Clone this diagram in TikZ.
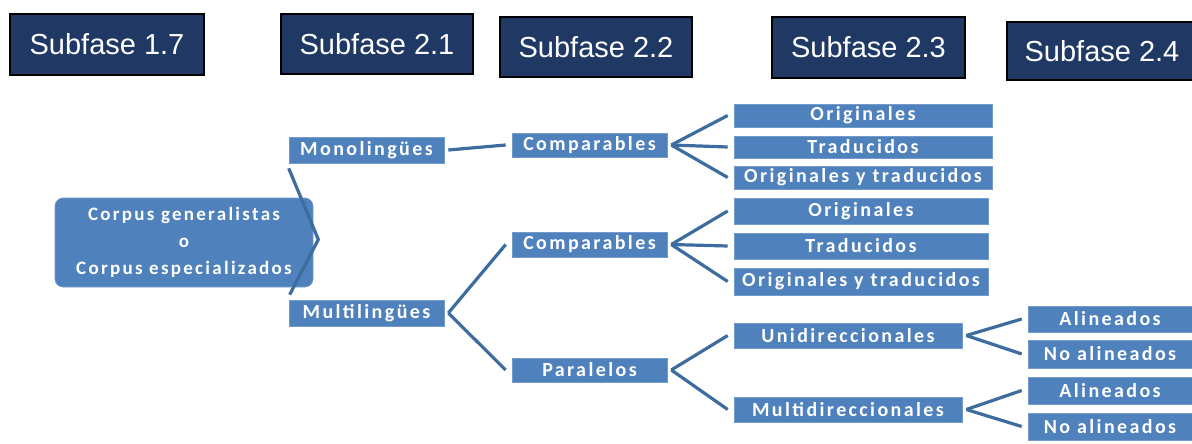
\documentclass[tikz,border=0pt]{standalone}
\usepackage{fontspec}
\usetikzlibrary{calc}
\newfontfamily\hdrfont{Liberation Sans}
\newfontfamily\boxfont[LetterSpace=12]{Carlito}
\definecolor{navy}{HTML}{1F3864}
\definecolor{boxblue}{HTML}{4F81BD}
\definecolor{lineblue}{HTML}{3D6C9E}
\tikzset{
  hdr/.style={draw=black, line width=2pt, fill=navy, text=white,
    font=\hdrfont\fontsize{29}{31}\selectfont, inner sep=0pt},
  bbox/.style={fill=boxblue, draw=boxblue!80!white, line width=0.6pt, text=white,
    font=\boxfont\bfseries\fontsize{20}{22}\selectfont, inner sep=0pt},
  conn/.style={draw=lineblue, line width=3.2pt, line join=miter}
}
\begin{document}
\begin{tikzpicture}[x=1pt,y=-1pt]
\useasboundingbox (0,0) rectangle (1192,444);
% headers
\node[hdr, minimum width=194pt, minimum height=61pt] (h17) at (107,44.5) {Subfase 1.7};
\node[hdr, minimum width=192pt, minimum height=60pt] (h21) at (377,44) {Subfase 2.1};
\node[hdr, minimum width=192pt, minimum height=60pt] (h22) at (596,47) {Subfase 2.2};
\node[hdr, minimum width=193pt, minimum height=61pt] (h23) at (868.5,47.5) {Subfase 2.3};
\node[hdr, minimum width=190pt, minimum height=58pt] (h24) at (1102,51) {Subfase 2.4};
% root
\node[bbox, rounded corners=8pt, minimum width=258pt, minimum height=89pt, align=center,
  font=\boxfont\bfseries\fontsize{19}{27}\selectfont] (root) at (184,242.5)
  {Corpus generalistas\\o\\Corpus especializados};
% level 1
\node[bbox, minimum width=155pt, minimum height=26pt] (mono) at (366.5,150) {Monolingües};
\node[bbox, minimum width=155pt, minimum height=26pt] (multi) at (366.5,313) {Multilingües};
% level 2
\node[bbox, minimum width=155pt, minimum height=24pt] (comp1) at (589.5,145) {Comparables};
\node[bbox, minimum width=155pt, minimum height=25pt] (comp2) at (589.5,244.5) {Comparables};
\node[bbox, minimum width=155pt, minimum height=24pt] (para) at (589.5,370) {Paralelos};
% level 3
\node[bbox, minimum width=258pt, minimum height=23pt] (or1) at (863,115.5) {Originales};
\node[bbox, minimum width=258pt, minimum height=22pt] (tr1) at (863,147) {Traducidos};
\node[bbox, minimum width=258pt, minimum height=23pt] (oyt1) at (863,177.5) {Originales y traducidos};
\node[bbox, minimum width=254pt, minimum height=26pt] (or2) at (861,211) {Originales};
\node[bbox, minimum width=254pt, minimum height=26pt] (tr2) at (861,246) {Traducidos};
\node[bbox, minimum width=254pt, minimum height=27pt] (oyt2) at (861,281.5) {Originales y traducidos};
\node[bbox, minimum width=228pt, minimum height=25pt] (uni) at (848,335.5) {Unidireccionales};
\node[bbox, minimum width=228pt, minimum height=25pt] (mul) at (848,409.5) {Multidireccionales};
% level 4
\node[bbox, minimum width=164pt, minimum height=26pt] (al1) at (1110,319) {Alineados};
\node[bbox, minimum width=164pt, minimum height=28pt] (na1) at (1110,354) {No alineados};
\node[bbox, minimum width=164pt, minimum height=27pt] (al2) at (1110,390.5) {Alineados};
\node[bbox, minimum width=164pt, minimum height=27pt] (na2) at (1110,426.5) {No alineados};
% connectors
\draw[conn] ($(mono.south west)+(0,5)$) -- ($(root.east)+(5,-3)$) -- ($(multi.north west)+(1,-5)$);
\draw[conn] ($(mono.east)+(4,0)$) -- ($(comp1.west)+(-6,0)$);
\draw[conn] ($(comp1.east)+(4,0)$) -- ($(or1.west)+(-6,0)$);
\draw[conn] ($(comp1.east)+(4,0)$) -- ($(tr1.west)+(-6,0)$);
\draw[conn] ($(comp1.east)+(4,0)$) -- ($(oyt1.west)+(-6,0)$);
\draw[conn] ($(multi.east)+(4,0)$) -- ($(comp2.west)+(-6,0)$);
\draw[conn] ($(multi.east)+(4,0)$) -- ($(para.west)+(-6,0)$);
\draw[conn] ($(comp2.east)+(4,0)$) -- ($(or2.west)+(-6,0)$);
\draw[conn] ($(comp2.east)+(4,0)$) -- ($(tr2.west)+(-6,0)$);
\draw[conn] ($(comp2.east)+(4,0)$) -- ($(oyt2.west)+(-6,0)$);
\draw[conn] ($(para.east)+(4,0)$) -- ($(uni.west)+(-6,0)$);
\draw[conn] ($(para.east)+(4,0)$) -- ($(mul.west)+(-6,0)$);
\draw[conn] ($(uni.east)+(4,0)$) -- ($(al1.west)+(-6,0)$);
\draw[conn] ($(uni.east)+(4,0)$) -- ($(na1.west)+(-6,0)$);
\draw[conn] ($(mul.east)+(4,0)$) -- ($(al2.west)+(-6,0)$);
\draw[conn] ($(mul.east)+(4,0)$) -- ($(na2.west)+(-6,0)$);
\end{tikzpicture}
\end{document}
